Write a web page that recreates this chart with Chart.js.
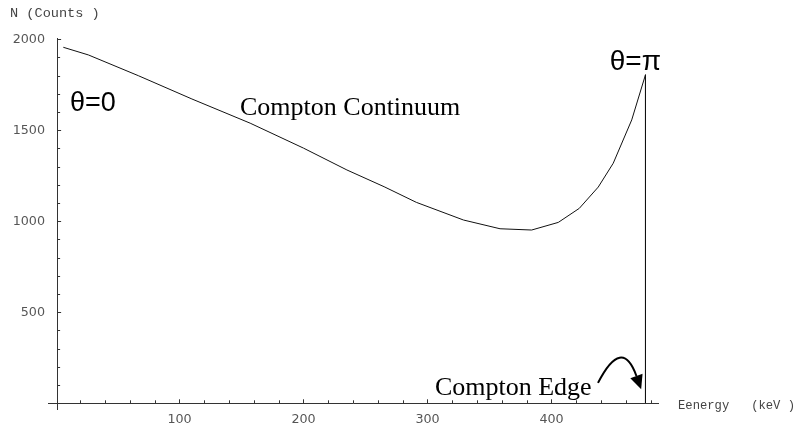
<!DOCTYPE html>
<html>
<head>
<meta charset="utf-8">
<script src="https://cdn.jsdelivr.net/npm/chart.js@4"></script>
<style>
  html, body { margin: 0; padding: 0; background: #fff; }
  #wrap { width: 799px; height: 427px; }
</style>
</head>
<body>
<div id="wrap"><canvas id="c" width="799" height="427"></canvas></div>
<script>
// energy (keV) and counts
const energy = [6.3, 26.5, 66.8, 110, 157, 200, 235, 265, 291, 329, 358.5, 384, 405.5, 422.4, 437.7, 449.8, 464.7, 475.8, 475.8];
const counts = [1956, 1914, 1800, 1672, 1539, 1402, 1282, 1190, 1104, 1007, 959, 952, 994, 1071, 1188, 1319, 1557, 1805, 0];

const xMajorTicks = [100, 200, 300, 400];
const yMajorTicks = [500, 1000, 1500, 2000];
const xMinorStep = 20;
const yMinorStep = 100;
const yAxisAt = 1.3; // where the vertical axis crosses

const points = energy.map((e, i) => ({ x: e, y: counts[i] }));

// text labels put on the plot
const notes = [
  { text: "θ=0", x: 11.7, y: 1606, font: "27px 'Liberation Sans', Arial, sans-serif" },
  { text: "θ=π", x: 447, y: 1830, font: "28px 'Liberation Sans', Arial, sans-serif" },
  { text: "Compton Continuum", x: 148.8, y: 1584, font: "26px 'Liberation Serif', 'Times New Roman', serif" },
  { text: "Compton Edge", x: 306, y: 46, font: "26px 'Liberation Serif', 'Times New Roman', serif" }
];

const axesPlugin = {
  id: "axesPlugin",
  afterDraw(chart) {
    const ctx = chart.ctx;
    const xs = chart.scales.x, ys = chart.scales.y;
    const area = chart.chartArea;
    const x0 = xs.getPixelForValue(yAxisAt);
    const y0 = ys.getPixelForValue(0);

    ctx.save();
    ctx.strokeStyle = "#333";
    ctx.lineWidth = 1;
    ctx.beginPath();
    ctx.moveTo(area.left, Math.round(y0) + 0.5);
    ctx.lineTo(area.right, Math.round(y0) + 0.5);
    ctx.moveTo(Math.round(x0) + 0.5, area.top);
    ctx.lineTo(Math.round(x0) + 0.5, area.bottom);

    // x ticks
    for (let v = xMinorStep; v <= xs.max; v += xMinorStep) {
      const px = Math.round(xs.getPixelForValue(v)) + 0.5;
      const len = xMajorTicks.includes(v) ? 4 : 3;
      ctx.moveTo(px, y0);
      ctx.lineTo(px, y0 - len);
    }
    // y ticks
    for (let v = yMinorStep; v <= ys.max; v += yMinorStep) {
      const py = Math.round(ys.getPixelForValue(v)) + 0.5;
      const len = yMajorTicks.includes(v) ? 4 : 3;
      ctx.moveTo(x0, py);
      ctx.lineTo(x0 + len, py);
    }
    ctx.stroke();

    // annotations
    ctx.fillStyle = "#000";
    ctx.textBaseline = "alphabetic";
    ctx.textAlign = "left";
    notes.forEach(n => {
      ctx.font = n.font;
      ctx.fillText(n.text, xs.getPixelForValue(n.x), ys.getPixelForValue(n.y));
    });

    // curved arrow pointing at the edge
    const sx = xs.getPixelForValue(437.5), sy = ys.getPixelForValue(112);
    const cx = xs.getPixelForValue(456.9), cy = ys.getPixelForValue(370);
    const ex = xs.getPixelForValue(468.5), ey = ys.getPixelForValue(150);
    ctx.lineWidth = 2;
    ctx.strokeStyle = "#000";
    ctx.beginPath();
    ctx.moveTo(sx, sy);
    ctx.quadraticCurveTo(cx, cy, ex, ey);
    ctx.stroke();
    const dx = ex - cx, dy = ey - cy, d = Math.hypot(dx, dy);
    const ux = dx / d, uy = dy / d;
    const tipX = ex + ux * 14, tipY = ey + uy * 14;
    ctx.beginPath();
    ctx.moveTo(tipX, tipY);
    ctx.lineTo(ex - uy * 6.5, ey + ux * 6.5);
    ctx.lineTo(ex + uy * 6.5, ey - ux * 6.5);
    ctx.closePath();
    ctx.fill();

    // axis titles
    ctx.fillStyle = "#444";
    ctx.textBaseline = "middle";
    ctx.font = "13.6px 'Liberation Mono', 'Courier New', monospace";
    ctx.fillText("N (Counts )", 10, 13);
    ctx.font = "12.2px 'Liberation Mono', 'Courier New', monospace";
    ctx.fillText("Eenergy   (keV )", 678, 406);
    ctx.restore();
  }
};

new Chart(document.getElementById("c"), {
  type: "line",
  data: {
    datasets: [{
      data: points,
      borderColor: "#111",
      borderWidth: 1,
      pointRadius: 0,
      tension: 0,
      fill: false
    }]
  },
  options: {
    responsive: false,
    animation: false,
    layout: { padding: { left: 0, right: 140, top: 38, bottom: 0 } },
    plugins: { legend: { display: false }, tooltip: { enabled: false } },
    scales: {
      x: {
        type: "linear",
        min: -6.05,
        max: 486.7,
        grid: { display: false, drawTicks: false },
        border: { display: false },
        afterFit: s => { s.height = 17; },
        afterBuildTicks: s => { s.ticks = xMajorTicks.map(v => ({ value: v })); },
        ticks: {
          padding: 2,
          color: "#555",
          font: { family: "'DejaVu Sans', sans-serif", size: 12.7 },
          maxRotation: 0,
          autoSkip: false,
          callback: v => String(v)
        }
      },
      y: {
        type: "linear",
        min: -36.8,
        max: 2007,
        grid: { display: false, drawTicks: false },
        border: { display: false },
        afterFit: s => { s.width = 48; },
        afterBuildTicks: s => { s.ticks = yMajorTicks.map(v => ({ value: v })); },
        ticks: {
          padding: 3,
          color: "#555",
          font: { family: "'DejaVu Sans', sans-serif", size: 12.7 },
          callback: v => String(v)
        }
      }
    }
  },
  plugins: [axesPlugin]
});
</script>
</body>
</html>
